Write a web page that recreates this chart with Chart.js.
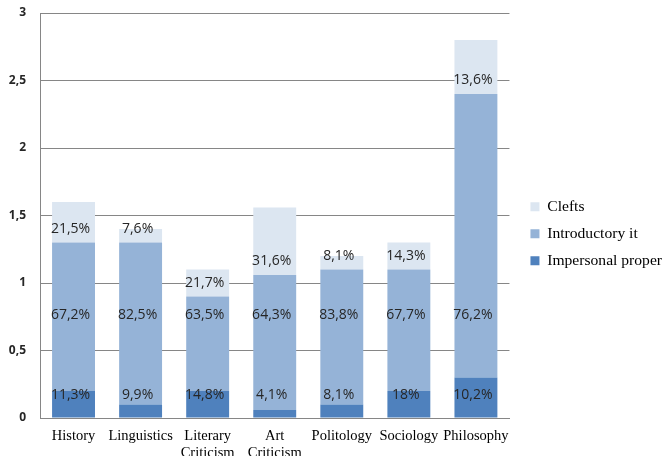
<!DOCTYPE html>
<html>
<head>
<meta charset="utf-8">
<script src="https://cdn.jsdelivr.net/npm/chart.js@4/dist/chart.umd.min.js"></script>
<style>
    html, body { margin: 0; padding: 0; background: #ffffff; }
    #wrap { width: 666px; height: 456px; }
</style>
</head>
<body>
<div id="wrap"><canvas id="myChart" width="666" height="456"></canvas></div>
<script>
"use strict"

const categories = ["History", "Linguistics", ["Literary", "Criticism"], ["Art", "Criticism"], "Politology", "Sociology", "Philosophy"];

// stacked values
const impersonalProper = [0.2, 0.1, 0.2, 0.06, 0.1, 0.2, 0.3];
const introductoryIt = [1.1, 1.2, 0.7, 1.0, 1.0, 0.9, 2.1];
const clefts = [0.3, 0.1, 0.2, 0.5, 0.1, 0.2, 0.4];

// percentage labels printed on the bars
const impersonalLabels = ["11,3%", "9,9%", "14,8%", "4,1%", "8,1%", "18%", "10,2%"];
const introductoryLabels = ["67,2%", "82,5%", "63,5%", "64,3%", "83,8%", "67,7%", "76,2%"];
const cleftLabels = ["21,5%", "7,6%", "21,7%", "31,6%", "8,1%", "14,3%", "13,6%"];

const yTicks = [0, 0.5, 1, 1.5, 2, 2.5, 3];

class Main{
    ctx;
    myChart;

    constructor(document){
        this.document = document;
    }

    // draws the percent texts, placed with the y scale
    labelPlugin(){
        return {
            id: "barLabels",
            afterDatasetsDraw(chart){
                const c = chart.ctx;
                const y = chart.scales.y;
                c.save();
                c.font = "14px 'Open Sans'";
                c.fillStyle = "#262626";
                c.textAlign = "center";
                c.textBaseline = "middle";
                const meta = chart.getDatasetMeta(2);
                meta.data.forEach((bar, i) => {
                    const x = bar.x - 3;
                    const introTop = impersonalProper[i] + introductoryIt[i];
                    c.fillText(impersonalLabels[i], x, y.getPixelForValue(0.17));
                    c.fillText(introductoryLabels[i], x, y.getPixelForValue(0.76));
                    c.fillText(cleftLabels[i], x, y.getPixelForValue(introTop + 0.1));
                });
                c.restore();
            }
        };
    }

    // one-line arrays so the row height follows font.lineHeight
    legendLabels(chart){
        const items = Chart.defaults.plugins.legend.labels.generateLabels(chart);
        items.forEach(item => { item.text = [item.text]; });
        return items;
    }

    initChart(){
        this.ctx = this.document.getElementById("myChart").getContext("2d");
        this.myChart = new Chart(this.ctx, {
            type: "bar",
            data: {
                labels: categories,
                datasets: [
                    { label: "Impersonal proper", data: impersonalProper, backgroundColor: "#4f81bd" },
                    { label: "Introductory it", data: introductoryIt, backgroundColor: "#95b3d7" },
                    { label: "Clefts", data: clefts, backgroundColor: "#dce6f1" }
                ]
            },
            options: {
                responsive: false,
                animation: false,
                layout: { padding: { top: 13, left: 0, right: -6, bottom: 0 } },
                datasets: { bar: { categoryPercentage: 1, barPercentage: 0.64 } },
                plugins: {
                    tooltip: { enabled: false },
                    legend: {
                        position: "right",
                        align: "start",
                        reverse: true,
                        // empty title used only as a spacer above the items
                        title: { display: true, text: "", padding: 0, font: { size: 12, lineHeight: "165px" } },
                        labels: {
                            boxWidth: 9,
                            boxHeight: 9,
                            padding: 21,
                            color: "#000000",
                            font: { family: "'Liberation Serif'", size: 15.6, lineHeight: "6px" },
                            generateLabels: (chart) => this.legendLabels(chart)
                        }
                    }
                },
                scales: {
                    x: {
                        stacked: true,
                        grid: { display: false },
                        border: { color: "#868686" },
                        ticks: {
                            color: "#000000",
                            padding: 1,
                            maxRotation: 0,
                            autoSkip: false,
                            font: { family: "'Liberation Serif'", size: 14.5, lineHeight: 1.22 }
                        },
                        afterFit: (scale) => { scale.height = 38; }
                    },
                    y: {
                        stacked: true,
                        min: 0,
                        max: 3,
                        afterBuildTicks: (scale) => { scale.ticks = yTicks.map(v => ({ value: v })); },
                        grid: { color: "#868686", drawTicks: false },
                        border: { color: "#868686" },
                        ticks: {
                            color: "#262626",
                            padding: 14,
                            font: { family: "'Open Sans'", size: 12, weight: "bold" },
                            callback: (v) => String(v).replace(".", ",")
                        },
                        afterFit: (scale) => {
                            scale.width = 40;
                            scale.paddingTop = 0;
                            scale.paddingBottom = 0;
                        }
                    }
                }
            },
            plugins: [this.labelPlugin()]
        });
    }

    run(){
        this.initChart();
    }
}

const main = new Main(document);

main.run();
</script>
</body>
</html>
